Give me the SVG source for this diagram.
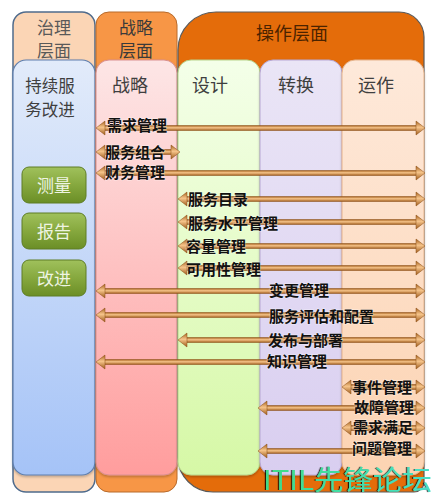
<svg xmlns="http://www.w3.org/2000/svg" width="435" height="498" viewBox="0 0 435 498">
<defs>
<linearGradient id="gBlue" x1="0" y1="0" x2="0" y2="1"><stop offset="0" stop-color="#E2EBFA"/><stop offset="1" stop-color="#A5C3F7"/></linearGradient>
<linearGradient id="gPink" x1="0" y1="0" x2="0" y2="1"><stop offset="0" stop-color="#FDE6E6"/><stop offset="1" stop-color="#FF9D9D"/></linearGradient>
<linearGradient id="gGreen" x1="0" y1="0" x2="0" y2="1"><stop offset="0" stop-color="#F4FFE9"/><stop offset="1" stop-color="#D6F8A6"/></linearGradient>
<linearGradient id="gLav" x1="0" y1="0" x2="0" y2="1"><stop offset="0" stop-color="#EAE5F6"/><stop offset="1" stop-color="#D9CEF0"/></linearGradient>
<linearGradient id="gPeach" x1="0" y1="0" x2="0" y2="1"><stop offset="0" stop-color="#FEE9DA"/><stop offset="1" stop-color="#FCD3B2"/></linearGradient>
<linearGradient id="gBtn" x1="0" y1="0" x2="0" y2="1"><stop offset="0" stop-color="#A0C15C"/><stop offset="0.5" stop-color="#86A83E"/><stop offset="1" stop-color="#6B8E26"/></linearGradient>
<linearGradient id="gArr" x1="0" y1="0" x2="0" y2="1"><stop offset="0" stop-color="#A7631F"/><stop offset="0.45" stop-color="#F6C48A"/><stop offset="1" stop-color="#A05C1C"/></linearGradient>
<linearGradient id="gWm" x1="0" y1="0" x2="1" y2="0"><stop offset="0" stop-color="#3FDB86"/><stop offset="1" stop-color="#48DFC8"/></linearGradient>
<filter id="sh" x="-10%" y="-10%" width="120%" height="120%"><feDropShadow dx="0" dy="1.5" stdDeviation="1.2" flood-color="#000" flood-opacity="0.25"/></filter>
<filter id="wm" x="-5%" y="-10%" width="110%" height="120%"><feDropShadow dx="-1.2" dy="0" stdDeviation="0.2" flood-color="#000" flood-opacity="0.8"/></filter>
</defs>
<style>
.hd{font-family:"Noto Sans CJK SC","Noto Sans",sans-serif;font-size:17px;text-anchor:middle}
.pt{font-family:"Noto Sans CJK SC","Noto Sans",sans-serif;font-size:18px;fill:#3F3F3F;text-anchor:middle}
.bt{font-family:"Noto Sans CJK SC","Noto Sans",sans-serif;font-size:17px;fill:#EEF4E2;text-anchor:middle}
.lb{font-family:"Noto Sans CJK SC","Noto Sans",sans-serif;font-size:15px;font-weight:bold;fill:#111;stroke:rgba(255,255,255,0.35);stroke-width:1.5px;paint-order:stroke}
.bar{fill:url(#gArr);stroke:#8A4E17;stroke-width:0.5}
.head{fill:url(#gArr);stroke:#8A4E17;stroke-width:0.5;stroke-linejoin:round}
.btn{fill:url(#gBtn);stroke:#5E7D25;stroke-width:1}
</style>

<g id="governance">
<rect x="13" y="12" width="82" height="480" rx="13" fill="#FBD5B5" stroke="#4F6B8C" stroke-width="1.5"/>
<text class="hd" fill="#595959"><tspan x="54" y="33.5">治理</tspan><tspan x="54" y="56.5">层面</tspan></text>
<rect x="13" y="60" width="82" height="415" rx="13" fill="url(#gBlue)" stroke="#5F7FAE" stroke-width="1.2" filter="url(#sh)"/>
<text class="pt" style="font-size:16.5px"><tspan x="50" y="91.5">持续服</tspan><tspan x="50" y="115.5">务改进</tspan></text>
</g>

<g id="strategy">
<rect x="96" y="12" width="81" height="480" rx="13" fill="#F79646" stroke="#B86A2A" stroke-width="1"/>
<text class="hd" fill="#3A3A3A"><tspan x="136" y="33.5">战略</tspan><tspan x="136" y="56.5">层面</tspan></text>
<rect x="96" y="60" width="81" height="415" rx="13" fill="url(#gPink)" stroke="#D99090" stroke-width="1" filter="url(#sh)"/>
<text class="pt" x="130" y="92">战略</text>
</g>

<g id="operations">
<path d="M178,50 A38,38 0 0 1 216,12 H399 A25,25 0 0 1 424,37 V482 A10,10 0 0 1 414,492 H213 A35,35 0 0 1 178,457 Z" fill="#E46C0A" stroke="#5A5A5A" stroke-width="1.2"/>
<text class="hd" x="292" y="40" fill="#4A2300" style="font-size:18px">操作层面</text>
</g>

<g id="design">
<rect x="178" y="60" width="82" height="415" rx="13" fill="url(#gGreen)" stroke="#B8D48C" stroke-width="1" filter="url(#sh)"/>
<text class="pt" x="210" y="92">设计</text>
</g>
<g id="transition">
<rect x="260" y="60" width="82" height="415" rx="13" fill="url(#gLav)" stroke="#B7A8D4" stroke-width="1" filter="url(#sh)"/>
<text class="pt" x="296" y="92">转换</text>
</g>
<g id="operation">
<rect x="342" y="60" width="82" height="415" rx="13" fill="url(#gPeach)" stroke="#E6B48C" stroke-width="1" filter="url(#sh)"/>
<text class="pt" x="376" y="92">运作</text>
</g>

<g id="measure"><rect class="btn" x="22" y="167" width="64" height="36" rx="7"/><text class="bt" x="54" y="191.5">测量</text></g>
<g id="report"><rect class="btn" x="22" y="213" width="64" height="36" rx="7"/><text class="bt" x="54" y="237.5">报告</text></g>
<g id="improve"><rect class="btn" x="22" y="260" width="64" height="36" rx="7"/><text class="bt" x="54" y="284.5">改进</text></g>

<g id="connectors">
<g transform="translate(0,128)"><rect class="bar" x="104" y="-2.5" width="313" height="5"/><polygon class="head" points="96,0 105,-7 105,7"/><polygon class="head" points="425,0 416,-7 416,7"/></g>
<g transform="translate(0,152)"><rect class="bar" x="104" y="-2.5" width="68" height="5"/><polygon class="head" points="96,0 105,-7 105,7"/><polygon class="head" points="180,0 171,-7 171,7"/></g>
<g transform="translate(0,173)"><rect class="bar" x="104" y="-2.5" width="313" height="5"/><polygon class="head" points="96,0 105,-7 105,7"/><polygon class="head" points="425,0 416,-7 416,7"/></g>
<g transform="translate(0,199)"><rect class="bar" x="186" y="-2.5" width="231" height="5"/><polygon class="head" points="178,0 187,-7 187,7"/><polygon class="head" points="425,0 416,-7 416,7"/></g>
<g transform="translate(0,222)"><rect class="bar" x="186" y="-2.5" width="231" height="5"/><polygon class="head" points="178,0 187,-7 187,7"/><polygon class="head" points="425,0 416,-7 416,7"/></g>
<g transform="translate(0,246)"><rect class="bar" x="186" y="-2.5" width="231" height="5"/><polygon class="head" points="178,0 187,-7 187,7"/><polygon class="head" points="425,0 416,-7 416,7"/></g>
<g transform="translate(0,268)"><rect class="bar" x="186" y="-2.5" width="231" height="5"/><polygon class="head" points="178,0 187,-7 187,7"/><polygon class="head" points="425,0 416,-7 416,7"/></g>
<g transform="translate(0,291)"><rect class="bar" x="104" y="-2.5" width="313" height="5"/><polygon class="head" points="96,0 105,-7 105,7"/><polygon class="head" points="425,0 416,-7 416,7"/></g>
<g transform="translate(0,315)"><rect class="bar" x="104" y="-2.5" width="313" height="5"/><polygon class="head" points="96,0 105,-7 105,7"/><polygon class="head" points="425,0 416,-7 416,7"/></g>
<g transform="translate(0,340)"><rect class="bar" x="186" y="-2.5" width="231" height="5"/><polygon class="head" points="178,0 187,-7 187,7"/><polygon class="head" points="425,0 416,-7 416,7"/></g>
<g transform="translate(0,362)"><rect class="bar" x="104" y="-2.5" width="313" height="5"/><polygon class="head" points="96,0 105,-7 105,7"/><polygon class="head" points="425,0 416,-7 416,7"/></g>
<g transform="translate(0,387)"><rect class="bar" x="350" y="-2.5" width="67" height="5"/><polygon class="head" points="342,0 351,-7 351,7"/><polygon class="head" points="425,0 416,-7 416,7"/></g>
<g transform="translate(0,408)"><rect class="bar" x="266" y="-2.5" width="151" height="5"/><polygon class="head" points="258,0 267,-7 267,7"/><polygon class="head" points="425,0 416,-7 416,7"/></g>
<g transform="translate(0,428)"><rect class="bar" x="350" y="-2.5" width="67" height="5"/><polygon class="head" points="342,0 351,-7 351,7"/><polygon class="head" points="425,0 416,-7 416,7"/></g>
<g transform="translate(0,451)"><rect class="bar" x="266" y="-2.5" width="151" height="5"/><polygon class="head" points="258,0 267,-7 267,7"/><polygon class="head" points="425,0 416,-7 416,7"/></g>

<text class="lb" x="107" y="130.5">需求管理</text>
<text class="lb" x="105" y="157.5">服务组合</text>
<text class="lb" x="105" y="177.5">财务管理</text>
<text class="lb" x="188" y="204.5">服务目录</text>
<text class="lb" x="188" y="228.5">服务水平管理</text>
<text class="lb" x="186" y="251.5">容量管理</text>
<text class="lb" x="186" y="274.5">可用性管理</text>
<text class="lb" x="269" y="296">变更管理</text>
<text class="lb" x="269" y="321.5">服务评估和配置</text>
<text class="lb" x="268" y="345.5">发布与部署</text>
<text class="lb" x="267" y="367">知识管理</text>
<text class="lb" x="352" y="393">事件管理</text>
<text class="lb" x="354" y="412.5">故障管理</text>
<text class="lb" x="353" y="432.5">需求满足</text>
<text class="lb" x="352" y="453.5">问题管理</text>
</g>

<text x="263" y="489.5" fill="url(#gWm)" filter="url(#wm)" style="font-family:'Noto Sans CJK SC','Noto Sans',sans-serif;font-size:27px" textLength="169" lengthAdjust="spacingAndGlyphs">ITIL先锋论坛</text>
</svg>
